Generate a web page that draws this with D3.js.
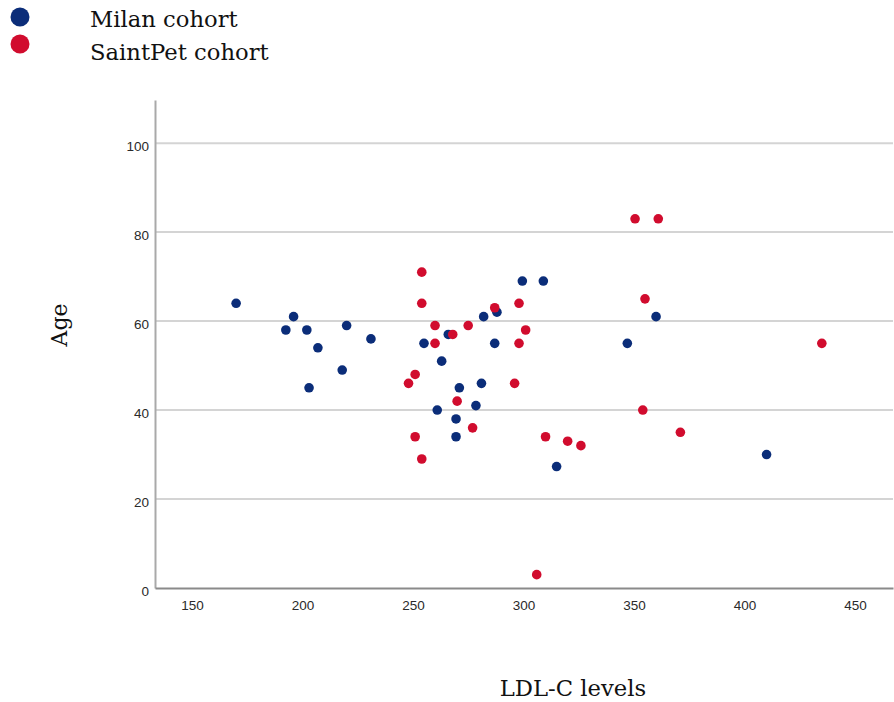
<!DOCTYPE html>
<html>
<head>
<meta charset="utf-8">
<script src="https://cdn.jsdelivr.net/npm/d3@7"></script>
<style>
  html, body { margin: 0; padding: 0; background: #fff; }
  svg { display: block; }
</style>
</head>
<body>
<svg id="chart" width="894" height="702"></svg>
<script>
// ---- Data ----
const seriesNames = ["Milan cohort", "SaintPet cohort"];
const seriesColors = ["#0b2d79", "#d10c2e"];

const milanLDL = [170, 196, 192.5, 202, 220, 207, 231, 203, 218,
  299.5, 309, 288, 282, 266, 255, 287, 263, 281, 271, 278.5, 261, 269.5, 269.5, 315,
  360, 347, 410];
const milanAge = [64, 61, 58, 58, 59, 54, 56, 45, 49,
  69, 69, 62, 61, 57, 55, 55, 51, 46, 45, 41, 40, 38, 34, 27.3,
  61, 55, 30];

const saintLDL = [254, 254, 298, 287, 260, 275, 301, 268, 260, 298,
  251, 248, 296, 270, 277, 251, 310, 320, 254, 326, 306,
  350.5, 361, 355, 435, 354, 371];
const saintAge = [71, 64, 64, 63, 59, 59, 58, 57, 55, 55,
  48, 46, 46, 42, 36, 34, 34, 33, 29, 32, 3,
  83, 83, 65, 55, 40, 35];

const xTicks = [150, 200, 250, 300, 350, 400, 450];
const yTicks = [0, 20, 40, 60, 80, 100];
const xTitle = "LDL-C levels";
const yTitle = "Age";

// ---- Drawing ----
const svg = d3.select("#chart");

const x = d3.scaleLinear().domain([133.3, 467.2]).range([155, 893]);
const y = d3.scaleLinear().domain([0, 109.7]).range([588, 100]);

// gridlines
svg.append("g")
  .selectAll("line")
  .data(yTicks.filter(d => d > 0))
  .join("line")
  .attr("x1", x.range()[0]).attr("x2", x.range()[1])
  .attr("y1", d => y(d)).attr("y2", d => y(d))
  .attr("stroke", "#d4d4d4").attr("stroke-width", 2);

// y axis
const yAxis = svg.append("g")
  .attr("transform", `translate(${x.range()[0]},0)`)
  .call(d3.axisLeft(y).tickValues(yTicks).tickSize(0).tickPadding(6));
yAxis.select(".domain").attr("stroke", "#a9a9a9").attr("stroke-width", 2);
yAxis.selectAll("text")
  .attr("font-family", "'Liberation Sans', Arial, sans-serif")
  .attr("font-size", 13.5).attr("fill", "#2a2a2a").attr("dy", "0.55em");

// x axis
const xAxis = svg.append("g")
  .attr("transform", `translate(0,${y(0)})`)
  .call(d3.axisBottom(x).tickValues(xTicks).tickSize(0).tickPadding(12.5));
xAxis.select(".domain").attr("stroke", "#8a8a8a").attr("stroke-width", 2);
xAxis.selectAll("text")
  .attr("font-family", "'Liberation Sans', Arial, sans-serif")
  .attr("font-size", 13.5).attr("fill", "#2a2a2a");

// points
const milan = milanLDL.map((v, i) => ({ x: v, y: milanAge[i] }));
const saint = saintLDL.map((v, i) => ({ x: v, y: saintAge[i] }));

svg.append("g").selectAll("circle").data(milan).join("circle")
  .attr("cx", d => x(d.x)).attr("cy", d => y(d.y)).attr("r", 4.8)
  .attr("fill", seriesColors[0]);
svg.append("g").selectAll("circle").data(saint).join("circle")
  .attr("cx", d => x(d.x)).attr("cy", d => y(d.y)).attr("r", 4.8)
  .attr("fill", seriesColors[1]);

// legend
const legend = svg.append("g");
const legY = [17, 44];
const legTextY = [27, 60];
seriesNames.forEach((name, i) => {
  legend.append("circle").attr("cx", 20).attr("cy", legY[i]).attr("r", 9.5)
    .attr("fill", seriesColors[i]);
  legend.append("text").attr("x", 90).attr("y", legTextY[i])
    .attr("font-family", "'DejaVu Serif', serif").attr("font-size", 22.7)
    .attr("fill", "#111").text(name);
});

// axis titles
svg.append("text")
  .attr("x", 573).attr("y", 696)
  .attr("text-anchor", "middle")
  .attr("font-family", "'DejaVu Serif', serif").attr("font-size", 22.7)
  .attr("fill", "#111").text(xTitle);

svg.append("text")
  .attr("transform", "translate(67,325) rotate(-90)")
  .attr("text-anchor", "middle")
  .attr("font-family", "'DejaVu Serif', serif").attr("font-size", 22)
  .attr("fill", "#111").text(yTitle);
</script>
</body>
</html>
